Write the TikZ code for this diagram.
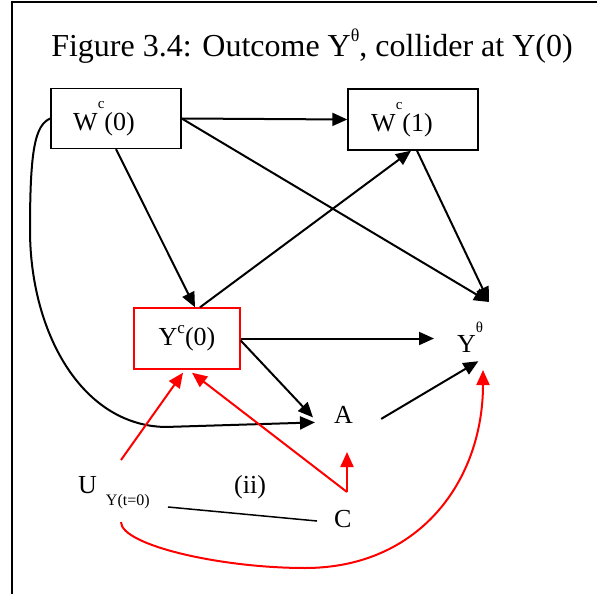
\documentclass[tikz,border=0pt]{standalone}
\usepackage{fontspec}
\setmainfont{Liberation Serif}
\usetikzlibrary{arrows.meta,calc}
\newcommand\myraise[3]{\raisebox{#1}{\fontsize{#2}{#2}\selectfont #3}}
\begin{document}
\begin{tikzpicture}[x=1pt,y=-1pt,
  lab/.style={inner sep=0pt, anchor=base west, font=\fontsize{26}{30}\selectfont},
  boxnode/.style={draw, line width=1.4pt, inner sep=0pt, minimum width=130pt, minimum height=60pt, font=\fontsize{26}{30}\selectfont},
  conn/.style={line width=2pt, -{Triangle[length=15pt,width=13pt]}},
  redconn/.style={conn, red},
  plain/.style={line width=1.5pt},
]
\useasboundingbox (0,0) rectangle (597,594);
\draw[line width=2pt] (11.5,594) -- (11.5,2.5) -- (597,2.5);

\node[anchor=base, inner sep=0pt, font=\fontsize{32}{36}\selectfont] (title) at (312,57) {Figure 3.4: Outcome Y\myraise{15pt}{18}{θ}, collider at Y(0)};

\node[boxnode] (w0) at (116,118.5) {W\myraise{22pt}{15}{c}(0)\hspace*{24pt}};
\node[boxnode, minimum height=61pt] (w1) at (413,119.5) {W\myraise{22pt}{15}{c}(1)\hspace*{22pt}};
\node[boxnode, draw=red, minimum width=106pt, minimum height=61pt] (y0) at (187,338.5) {Y\myraise{12pt}{17}{c}(0)};

\node[lab] (yt) at (457,352) {Y\myraise{20pt}{15}{θ}};
\node[lab] (a) at (334,423) {A};
\node[lab] (c) at (334,527) {C};
\node[lab] (u) at (78,493) {U\hspace{9pt}\raisebox{-12pt}{\fontsize{16}{16}\selectfont Y(t=0)}};
\node[lab] (ii) at (234,493) {(ii)};

\coordinate (ytTop) at (489,302);
\coordinate (uTop) at (121,460);
\coordinate (uBot) at (121,522);
\coordinate (uRight) at (168,507);
\coordinate (cTop) at (347,492);
\coordinate (cLeft) at (317,521);

\draw[conn] (w0.east) -- (w1.west);
\draw[conn] (w0.east) -- (ytTop);
\draw[conn] ([xshift=4pt]w1.south) -- (ytTop);
\draw[conn] (w0.south) -- ([xshift=8pt]y0.north);
\draw[conn] ([xshift=13pt]y0.north) -- ([xshift=-2pt]w1.south);
\draw[conn] (y0.east) -- ([xshift=-23pt]yt.west |- y0.east);
\draw[conn] ([yshift=-2pt]y0.east) -- ([xshift=-21pt,yshift=-3pt]a.west);
\draw[conn] ([xshift=28pt,yshift=-4.5pt]a.east) -- ([xshift=-5pt,yshift=-9pt]yt.south east);
\draw[conn] (w0.west) .. controls (35,125) and (30,150) .. (30,230) .. controls (30,330) and (80,425) .. (165,427) -- ([xshift=-19pt,yshift=-8pt]a.west);

\draw[redconn] (uTop) -- ([xshift=-4pt,yshift=-3pt]y0.south);
\draw[redconn] (cTop) -- ([xshift=5pt,yshift=-3pt]y0.south);
\draw[redconn] (cTop) -- ++(0,-40);
\draw[plain] (uRight) -- (cLeft);
\draw[redconn] (uBot) .. controls (121,545) and (220,568) .. (305,568) .. controls (420,568) and (483,480) .. (483,370);
\end{tikzpicture}
\end{document}
